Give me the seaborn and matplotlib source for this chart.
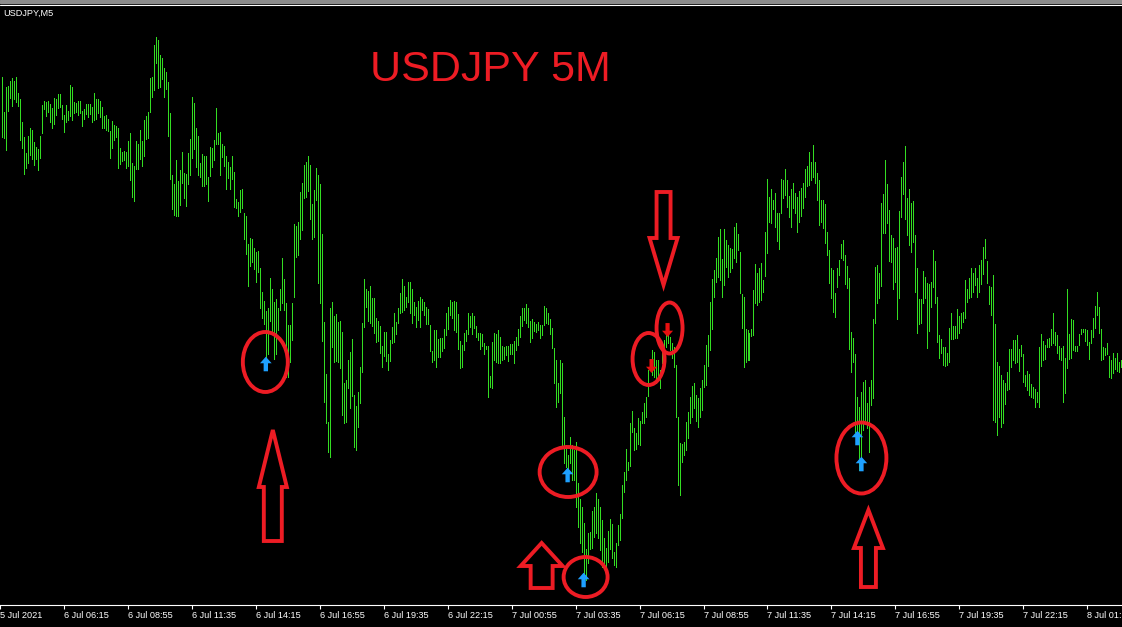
import numpy as np
import pandas as pd
import seaborn as sns
import matplotlib.pyplot as plt
from matplotlib.path import Path
from matplotlib.patches import Ellipse, Polygon, Rectangle
from matplotlib.lines import Line2D

# 5 minute bars (high / low)
bar_high = [
    111.223, 111.188, 111.213, 111.214, 111.219, 111.222, 111.219, 111.223, 111.207, 111.201,
    111.178, 111.163, 111.147, 111.164, 111.172, 111.170, 111.158, 111.153, 111.151, 111.164,
    111.195, 111.199, 111.198, 111.199, 111.196, 111.192, 111.202, 111.201, 111.206, 111.206,
    111.195, 111.185, 111.195, 111.189, 111.215, 111.213, 111.198, 111.197, 111.199, 111.199,
    111.189, 111.191, 111.196, 111.196, 111.196, 111.193, 111.207, 111.201, 111.201, 111.199,
    111.193, 111.184, 111.185, 111.181, 111.169, 111.179, 111.175, 111.174, 111.172, 111.152,
    111.148, 111.149, 111.148, 111.159, 111.167, 111.137, 111.134, 111.159, 111.156, 111.170,
    111.159, 111.180, 111.184, 111.188, 111.222, 111.223, 111.255, 111.263, 111.260, 111.245,
    111.242, 111.232, 111.228, 111.218, 111.187, 111.125, 111.116, 111.140, 111.119, 111.130,
    111.148, 111.127, 111.126, 111.147, 111.161, 111.203, 111.197, 111.172, 111.164, 111.137,
    111.146, 111.144, 111.144, 111.123, 111.153, 111.152, 111.160, 111.192, 111.167, 111.168,
    111.156, 111.154, 111.144, 111.138, 111.133, 111.144, 111.128, 111.101, 111.098, 111.110,
    111.111, 111.087, 111.084, 111.056, 111.062, 111.061, 111.052, 111.048, 111.049, 111.032,
    111.008, 110.999, 110.989, 110.992, 111.022, 111.011, 110.998, 111.001, 110.992, 111.011,
    111.042, 111.021, 110.997, 110.975, 110.975, 110.997, 111.076, 111.074, 111.078, 111.108,
    111.117, 111.135, 111.138, 111.144, 111.135, 111.096, 111.110, 111.132, 111.125, 111.116,
    111.066, 110.978, 110.926, 110.878, 110.992, 110.998, 110.984, 110.986, 110.978, 110.979,
    110.968, 110.917, 110.920, 110.940, 110.948, 110.961, 110.905, 110.894, 110.908, 110.933,
    110.977, 111.021, 111.011, 111.009, 111.014, 111.002, 111.002, 110.982, 110.979, 110.974,
    110.954, 110.968, 110.968, 110.946, 110.960, 110.973, 110.987, 110.978, 110.992, 111.007,
    111.021, 111.014, 111.003, 111.018, 111.018, 111.011, 110.998, 110.993, 110.999, 111.003,
    111.001, 110.998, 110.993, 110.991, 110.975, 110.949, 110.970, 110.970, 110.961, 110.962,
    110.962, 110.971, 110.987, 110.993, 111.000, 110.998, 110.999, 110.998, 110.986, 110.959,
    110.955, 110.967, 110.970, 110.987, 110.984, 110.987, 110.984, 110.974, 110.967, 110.967,
    110.966, 110.957, 110.954, 110.954, 110.924, 110.958, 110.967, 110.966, 110.970, 110.963,
    110.954, 110.953, 110.954, 110.954, 110.956, 110.956, 110.959, 110.963, 110.971, 110.984,
    110.992, 110.992, 110.996, 110.992, 110.979, 110.981, 110.978, 110.976, 110.978, 110.975,
    110.975, 110.994, 110.992, 110.987, 110.981, 110.972, 110.952, 110.940, 110.917, 110.940,
    110.937, 110.883, 110.855, 110.845, 110.863, 110.855, 110.850, 110.858, 110.817, 110.801,
    110.793, 110.777, 110.751, 110.767, 110.768, 110.789, 110.793, 110.807, 110.801, 110.793,
    110.780, 110.762, 110.752, 110.769, 110.781, 110.776, 110.748, 110.757, 110.775, 110.786,
    110.815, 110.828, 110.851, 110.838, 110.877, 110.889, 110.872, 110.867, 110.882, 110.879,
    110.888, 110.897, 110.903, 110.930, 110.940, 110.950, 110.948, 110.940, 110.940, 110.930,
    110.957, 110.960, 110.965, 110.968, 110.963, 110.957, 110.953, 110.935, 110.883, 110.857,
    110.856, 110.858, 110.878, 110.888, 110.903, 110.914, 110.917, 110.905, 110.902, 110.912,
    110.920, 110.935, 110.955, 110.965, 110.998, 111.021, 111.030, 111.042, 111.063, 111.071,
    111.041, 111.071, 111.060, 111.055, 111.052, 111.051, 111.073, 111.077, 111.066, 111.048,
    111.006, 111.003, 110.971, 110.970, 110.967, 110.971, 111.010, 111.036, 111.027, 111.032,
    111.037, 111.020, 111.068, 111.121, 111.103, 111.111, 111.100, 111.107, 111.087, 111.087,
    111.121, 111.120, 111.131, 111.120, 111.104, 111.111, 111.117, 111.107, 111.103, 111.109,
    111.112, 111.117, 111.131, 111.134, 111.148, 111.138, 111.155, 111.138, 111.127, 111.120,
    111.100, 111.100, 111.096, 111.068, 111.050, 111.032, 111.030, 111.007, 111.032, 111.040,
    111.056, 111.060, 111.045, 111.034, 111.022, 110.968, 110.962, 110.946, 110.903, 110.893,
    110.908, 110.918, 110.920, 110.897, 110.913, 110.920, 110.981, 111.033, 111.035, 111.027,
    111.097, 111.106, 111.140, 111.116, 111.090, 111.065, 111.062, 111.052, 111.053, 111.089,
    111.123, 111.138, 111.154, 111.102, 111.111, 111.097, 111.099, 111.065, 111.032, 111.001,
    111.001, 111.029, 111.023, 111.017, 111.016, 111.018, 111.050, 111.039, 111.003, 110.965,
    110.961, 110.953, 110.953, 110.947, 110.972, 110.987, 110.974, 110.974, 110.991, 110.984,
    110.987, 110.988, 111.020, 111.011, 111.022, 111.032, 111.027, 111.032, 111.022, 111.035,
    111.040, 111.053, 111.061, 111.039, 111.014, 111.013, 111.025, 110.976, 110.938, 110.934,
    110.925, 110.920, 110.917, 110.928, 110.951, 110.951, 110.960, 110.960, 110.965, 110.951,
    110.955, 110.946, 110.925, 110.929, 110.926, 110.916, 110.913, 110.911, 110.908, 110.953,
    110.966, 110.959, 110.955, 110.961, 110.962, 110.971, 110.987, 110.968, 110.965, 110.954,
    110.952, 110.954, 110.942, 111.011, 110.966, 110.981, 110.980, 110.954, 110.954, 110.966,
    110.971, 110.971, 110.971, 110.970, 110.958, 110.970, 110.982, 110.994, 111.008, 110.993,
    110.971, 110.953, 110.952, 110.957, 110.944, 110.940, 110.947, 110.942, 110.947, 110.938,
    110.940,
]
bar_low = [
    111.163, 111.162, 111.150, 111.189, 111.202, 111.194, 111.201, 111.198, 111.194, 111.160,
    111.152, 111.126, 111.132, 111.137, 111.145, 111.141, 111.135, 111.141, 111.130, 111.142,
    111.167, 111.191, 111.184, 111.188, 111.178, 111.172, 111.176, 111.185, 111.192, 111.193,
    111.181, 111.168, 111.178, 111.180, 111.184, 111.180, 111.187, 111.188, 111.185, 111.187,
    111.174, 111.181, 111.186, 111.183, 111.186, 111.178, 111.180, 111.181, 111.187, 111.183,
    111.172, 111.172, 111.170, 111.169, 111.142, 111.152, 111.160, 111.163, 111.132, 111.136,
    111.139, 111.140, 111.132, 111.134, 111.120, 111.103, 111.099, 111.131, 111.131, 111.141,
    111.134, 111.144, 111.161, 111.162, 111.188, 111.203, 111.210, 111.237, 111.212, 111.213,
    111.221, 111.203, 111.211, 111.164, 111.121, 111.091, 111.085, 111.084, 111.084, 111.095,
    111.117, 111.102, 111.094, 111.116, 111.125, 111.142, 111.151, 111.133, 111.125, 111.123,
    111.114, 111.114, 111.116, 111.099, 111.124, 111.133, 111.140, 111.156, 111.156, 111.125,
    111.143, 111.134, 111.111, 111.122, 111.111, 111.121, 111.093, 111.092, 111.084, 111.088,
    111.092, 111.061, 111.046, 111.014, 111.034, 111.038, 111.031, 111.018, 111.028, 110.992,
    110.982, 110.976, 110.941, 110.946, 110.979, 110.968, 110.941, 110.946, 110.970, 110.990,
    110.997, 110.990, 110.923, 110.923, 110.938, 110.960, 111.003, 111.043, 111.045, 111.061,
    111.070, 111.102, 111.103, 111.109, 111.081, 111.061, 111.063, 111.100, 111.017, 110.997,
    110.959, 110.898, 110.877, 110.848, 110.843, 110.953, 110.938, 110.939, 110.938, 110.932,
    110.885, 110.877, 110.878, 110.912, 110.892, 110.904, 110.853, 110.850, 110.873, 110.897,
    110.928, 110.973, 110.993, 110.979, 110.977, 110.974, 110.967, 110.958, 110.959, 110.947,
    110.933, 110.944, 110.939, 110.930, 110.939, 110.957, 110.958, 110.966, 110.977, 110.987,
    110.988, 110.990, 110.993, 110.998, 110.987, 110.977, 110.985, 110.973, 110.980, 110.973,
    110.990, 110.985, 110.976, 110.976, 110.949, 110.938, 110.940, 110.933, 110.943, 110.943,
    110.949, 110.952, 110.965, 110.971, 110.985, 110.982, 110.970, 110.968, 110.951, 110.932,
    110.933, 110.950, 110.959, 110.966, 110.973, 110.966, 110.972, 110.963, 110.960, 110.951,
    110.954, 110.946, 110.951, 110.903, 110.913, 110.912, 110.940, 110.938, 110.937, 110.937,
    110.940, 110.941, 110.945, 110.939, 110.946, 110.946, 110.937, 110.950, 110.955, 110.963,
    110.974, 110.980, 110.977, 110.973, 110.958, 110.962, 110.969, 110.968, 110.970, 110.962,
    110.965, 110.975, 110.977, 110.976, 110.966, 110.952, 110.917, 110.893, 110.898, 110.907,
    110.853, 110.837, 110.833, 110.820, 110.837, 110.820, 110.820, 110.793, 110.773, 110.757,
    110.748, 110.723, 110.720, 110.737, 110.751, 110.752, 110.763, 110.767, 110.762, 110.750,
    110.733, 110.737, 110.733, 110.738, 110.751, 110.742, 110.735, 110.733, 110.755, 110.760,
    110.782, 110.808, 110.820, 110.830, 110.834, 110.868, 110.850, 110.851, 110.856, 110.855,
    110.877, 110.877, 110.883, 110.904, 110.930, 110.925, 110.923, 110.917, 110.923, 110.912,
    110.937, 110.952, 110.953, 110.957, 110.950, 110.942, 110.933, 110.883, 110.815, 110.805,
    110.838, 110.845, 110.850, 110.862, 110.877, 110.883, 110.892, 110.879, 110.873, 110.883,
    110.890, 110.913, 110.915, 110.934, 110.950, 110.971, 111.003, 111.018, 111.023, 111.020,
    111.003, 111.015, 111.033, 111.023, 111.028, 111.032, 111.042, 111.038, 111.050, 111.007,
    110.972, 110.933, 110.938, 110.940, 110.940, 110.964, 110.965, 110.997, 110.995, 110.998,
    111.000, 111.008, 111.024, 111.047, 111.078, 111.077, 111.091, 111.073, 111.059, 111.051,
    111.087, 111.102, 111.105, 111.093, 111.083, 111.073, 111.092, 111.087, 111.068, 111.078,
    111.084, 111.092, 111.103, 111.114, 111.115, 111.120, 111.123, 111.117, 111.100, 111.075,
    111.078, 111.072, 111.057, 111.045, 111.017, 111.002, 110.988, 110.983, 111.013, 111.025,
    111.042, 111.040, 111.016, 111.012, 110.951, 110.928, 110.938, 110.868, 110.857, 110.830,
    110.840, 110.870, 110.880, 110.872, 110.848, 110.895, 110.902, 110.977, 110.997, 111.002,
    111.014, 111.067, 111.067, 111.077, 111.039, 111.038, 111.011, 111.018, 110.981, 111.002,
    111.083, 111.106, 111.081, 111.065, 111.055, 111.048, 111.058, 111.008, 110.967, 110.976,
    110.977, 110.997, 111.002, 110.952, 110.969, 110.993, 111.013, 110.997, 110.958, 110.942,
    110.947, 110.935, 110.934, 110.935, 110.938, 110.961, 110.961, 110.962, 110.962, 110.967,
    110.972, 110.978, 110.982, 110.998, 111.002, 111.003, 111.008, 111.015, 111.003, 111.008,
    111.016, 111.026, 111.042, 111.017, 110.996, 110.985, 110.880, 110.878, 110.865, 110.883,
    110.873, 110.877, 110.896, 110.910, 110.911, 110.933, 110.940, 110.937, 110.938, 110.929,
    110.944, 110.918, 110.914, 110.910, 110.905, 110.903, 110.902, 110.893, 110.898, 110.893,
    110.934, 110.940, 110.941, 110.953, 110.953, 110.955, 110.957, 110.955, 110.947, 110.941,
    110.940, 110.898, 110.907, 110.932, 110.941, 110.942, 110.950, 110.949, 110.949, 110.955,
    110.966, 110.968, 110.959, 110.955, 110.941, 110.957, 110.963, 110.972, 110.985, 110.967,
    110.940, 110.941, 110.945, 110.946, 110.923, 110.922, 110.927, 110.931, 110.929, 110.928,
    110.933,
]

tick_bars = [-1, 31, 63, 95, 127, 159, 191, 223, 255, 287, 319, 351, 383, 415, 447, 479, 511, 543]
tick_labels = ["5 Jul 2021", "6 Jul 06:15", "6 Jul 08:55", "6 Jul 11:35", "6 Jul 14:15",
               "6 Jul 16:55", "6 Jul 19:35", "6 Jul 22:15", "7 Jul 00:55", "7 Jul 03:35",
               "7 Jul 06:15", "7 Jul 08:55", "7 Jul 11:35", "7 Jul 14:15", "7 Jul 16:55",
               "7 Jul 19:35", "7 Jul 22:15", "8 Jul 01:55"]

# indicator signals
buy_bar = [132, 283, 291, 428, 430]
buy_price = [110.936, 110.825, 110.720, 110.862, 110.836]
sell_bar = [325, 333]
sell_price = [110.934, 110.970]

# hand drawn marks (circles and big arrows)
ring_bar = [131.75, 283.25, 292.0, 334.0, 323.5, 430.0]
ring_price = [110.938, 110.828, 110.723, 110.972, 110.941, 110.842]
ring_w = [22.5, 28.5, 22.0, 13.0, 16.0, 25.0]
ring_h = [0.060, 0.050, 0.040, 0.051, 0.052, 0.071]

big_bar = [135.5, 270.0, 331.0, 433.5]
big_tip = [110.870, 110.757, 111.015, 110.790]
big_end = [110.759, 110.712, 111.108, 110.713]
big_head = [0.057, 0.023, 0.047, 0.038]
big_head_w = [7.0, 10.5, 7.0, 7.25]
big_shaft_w = [4.5, 5.5, 3.5, 3.75]

RED = "#ed1c24"
BAR = "#33dd22"

df = pd.DataFrame({"bar": np.arange(len(bar_high)), "high": bar_high, "low": bar_low})
buys = pd.DataFrame({"bar": buy_bar, "price": buy_price})
sells = pd.DataFrame({"bar": sell_bar, "price": sell_price})

sns.set_theme(style="dark", rc={"axes.facecolor": "black", "figure.facecolor": "black"})
plt.rcParams["font.family"] = ["Liberation Sans", "DejaVu Sans"]

fig = plt.figure(figsize=(11.22, 6.27), dpi=100)
ax = fig.add_axes([0, 22 / 627, 1, 600 / 627])
ax.set_facecolor("black")

# one pixel wide bars on odd pixel columns, one pixel gap
ax.vlines(df["bar"], df["low"], df["high"], colors=BAR, linewidth=0.5, antialiased=False)

up = Path([(0, 1), (0.8, 0.1), (0.3, 0.1), (0.3, -1), (-0.3, -1), (-0.3, 0.1), (-0.8, 0.1), (0, 1)], closed=True)
down = Path([(0, -1), (0.8, -0.1), (0.3, -0.1), (0.3, 1), (-0.3, 1), (-0.3, -0.1), (-0.8, -0.1), (0, -1)], closed=True)
sns.scatterplot(data=buys, x="bar", y="price", marker=up, s=110, color="#1ea0ff",
                edgecolor="none", ax=ax, zorder=5, legend=False)
sns.scatterplot(data=sells, x="bar", y="price", marker=down, s=100, color="#e81010",
                edgecolor="none", ax=ax, zorder=5, legend=False)

for b, p, w, h in zip(ring_bar, ring_price, ring_w, ring_h):
    ax.add_patch(Ellipse((b, p), w, h, fill=False, edgecolor=RED, linewidth=2.8, zorder=6))

for b, tip, end, head, hw, sw in zip(big_bar, big_tip, big_end, big_head, big_head_w, big_shaft_w):
    d = 1 if tip > end else -1
    base = tip - d * head
    pts = [(b, tip), (b + hw, base), (b + sw, base), (b + sw, end),
           (b - sw, end), (b - sw, base), (b - hw, base)]
    ax.add_patch(Polygon(pts, closed=True, fill=False, edgecolor=RED, linewidth=2.8,
                         joinstyle="miter", zorder=6))

ax.set_xlim(-0.625, len(df) - 0.625)
ax.set_ylim(110.695, 111.295)
ax.set_yticks([])
ax.set_xticks(tick_bars, labels=tick_labels)
for lab in ax.get_xticklabels():
    lab.set_horizontalalignment("left")
ax.tick_params(axis="x", colors="white", length=3, width=0.8, pad=1.5, labelsize=6.6, bottom=True)
ax.set_xlabel("")
ax.set_ylabel("")
for side in ["top", "left", "right"]:
    ax.spines[side].set_visible(False)
ax.spines["bottom"].set_color("white")
ax.spines["bottom"].set_linewidth(0.8)

ax.text(0.437, 0.892, "USDJPY 5M", transform=ax.transAxes, color=RED, fontsize=31,
        ha="center", va="center")
fig.text(3 / 1122, 1 - 13 / 627, "USDJPY,M5", color="white", fontsize=6.6, ha="left", va="center")

fig.add_artist(Rectangle((0, 1 - 2.5 / 627), 1, 2.5 / 627, transform=fig.transFigure,
                         color="#8c8c8c", zorder=10))
fig.add_artist(Line2D([0, 1], [1 - 4.5 / 627] * 2, transform=fig.transFigure,
                      color="white", linewidth=0.8))

fig.savefig("out.png", dpi=100, facecolor="black")
